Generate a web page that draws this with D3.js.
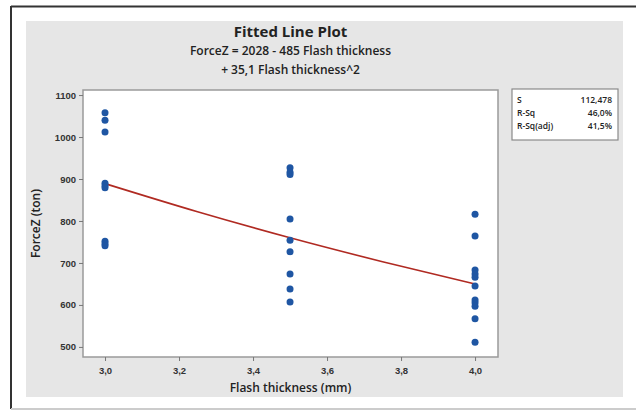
<!DOCTYPE html>
<html>
<head>
<meta charset="utf-8">
<script src="https://cdn.jsdelivr.net/npm/d3@7.9.0/dist/d3.min.js"></script>
<style>
  body { margin: 0; background: #fff; }
  svg { display: block; font-family: "Open Sans", "Noto Sans", sans-serif; }
</style>
</head>
<body>
<svg id="chart" width="636" height="410"></svg>
<script>
const thickness = [3.0, 3.0, 3.0, 3.0, 3.0, 3.0, 3.0, 3.0, 3.0,
                   3.5, 3.5, 3.5, 3.5, 3.5, 3.5, 3.5, 3.5, 3.5,
                   4.0, 4.0, 4.0, 4.0, 4.0, 4.0, 4.0, 4.0, 4.0, 4.0, 4.0];
const force = [1058, 1040, 1012, 890, 884, 879, 752, 746, 741,
               927, 916, 911, 805, 754, 727, 674, 638, 607,
               816, 764, 683, 674, 666, 645, 612, 605, 597, 567, 511];

// fitted curve values
const fitX = [3.0, 3.25, 3.5, 3.75, 4.0];
const fitY = [889, 822, 760, 703, 650];

const xTicks = [3.0, 3.2, 3.4, 3.6, 3.8, 4.0];
const yTicks = [500, 600, 700, 800, 900, 1000, 1100];

const statLabels = ["S", "R-Sq", "R-Sq(adj)"];
const statValues = ["112,478", "46,0%", "41,5%"];

const svg = d3.select("#chart");
const fmt = d => d3.format(".1f")(d).replace(".", ",");

// outer frame
svg.append("line").attr("x1", 11).attr("x2", 636).attr("y1", 6.5).attr("y2", 6.5)
  .attr("stroke", "#333").attr("stroke-width", 2);
svg.append("line").attr("x1", 11).attr("x2", 11).attr("y1", 6).attr("y2", 409)
  .attr("stroke", "#333").attr("stroke-width", 2);
svg.append("line").attr("x1", 11).attr("x2", 636).attr("y1", 409).attr("y2", 409)
  .attr("stroke", "#ccc").attr("stroke-width", 2);

// grey panel
svg.append("rect").attr("x", 26).attr("y", 21).attr("width", 597).attr("height", 376)
  .attr("fill", "#e6e6e6");

const pLeft = 83, pRight = 498, pTop = 90, pBottom = 357;
const x = d3.scaleLinear().domain([2.9405, 4.062]).range([pLeft, pRight]);
const y = d3.scaleLinear().domain([476, 1112]).range([pBottom, pTop]);

svg.append("rect").attr("x", pLeft).attr("y", pTop)
  .attr("width", pRight - pLeft).attr("height", pBottom - pTop)
  .attr("fill", "#fff").attr("stroke", "#9a9a9a").attr("stroke-width", 1.5);

// axes
const xAxis = svg.append("g").attr("transform", `translate(0,${pBottom})`)
  .call(d3.axisBottom(x).tickValues(xTicks).tickFormat(fmt).tickSize(4).tickPadding(6));
const yAxis = svg.append("g").attr("transform", `translate(${pLeft},0)`)
  .call(d3.axisLeft(y).tickValues(yTicks).tickFormat(d3.format("d")).tickSize(4).tickPadding(3));
[xAxis, yAxis].forEach(a => {
  a.select(".domain").remove();
  a.selectAll("line").attr("stroke", "#777");
  a.selectAll("text").attr("fill", "#333").style("font-size", "9.5px").style("font-weight", 600);
});

// fitted line
svg.append("path")
  .datum(fitX.map((d, i) => [d, fitY[i]]))
  .attr("fill", "none").attr("stroke", "#b02a22").attr("stroke-width", 1.6)
  .attr("d", d3.line().x(d => x(d[0])).y(d => y(d[1])).curve(d3.curveMonotoneX));

// points
svg.append("g").selectAll("circle")
  .data(force)
  .join("circle")
  .attr("cx", (d, i) => x(thickness[i]))
  .attr("cy", d => y(d))
  .attr("r", 3.5)
  .attr("fill", "#1f56a3");

// titles
const cx = (pLeft + pRight) / 2;
svg.append("text").attr("x", cx).attr("y", 37).attr("text-anchor", "middle")
  .style("font-size", "15px").style("font-weight", 700).attr("fill", "#222")
  .text("Fitted Line Plot");
svg.append("text").attr("x", cx).attr("y", 55).attr("text-anchor", "middle")
  .style("font-size", "12px").style("font-weight", 600).attr("fill", "#222")
  .text("ForceZ = 2028 - 485 Flash thickness");
svg.append("text").attr("x", cx).attr("y", 74).attr("text-anchor", "middle")
  .style("font-size", "12px").style("font-weight", 600).attr("fill", "#222")
  .text("+ 35,1 Flash thickness^2");

svg.append("text").attr("x", cx).attr("y", 392).attr("text-anchor", "middle")
  .style("font-size", "12px").style("font-weight", 600).attr("fill", "#222")
  .text("Flash thickness (mm)");
svg.append("text").attr("transform", `translate(40,${(pTop + pBottom) / 2}) rotate(-90)`)
  .attr("text-anchor", "middle")
  .style("font-size", "12px").style("font-weight", 600).attr("fill", "#222")
  .text("ForceZ (ton)");

// stats box
const box = svg.append("g");
box.append("rect").attr("x", 512).attr("y", 89).attr("width", 106).attr("height", 51)
  .attr("fill", "#fff").attr("stroke", "#8a8a8a").attr("stroke-width", 1.2);
const rows = box.selectAll("g.row").data(statLabels).join("g")
  .attr("transform", (d, i) => `translate(0,${103 + i * 13})`);
rows.append("text").attr("x", 517).style("font-size", "8.5px").style("font-weight", 600)
  .attr("fill", "#222").text(d => d);
rows.append("text").attr("x", 612).attr("text-anchor", "end")
  .style("font-size", "8.5px").style("font-weight", 600).attr("fill", "#222")
  .text((d, i) => statValues[i]);
</script>
</body>
</html>
